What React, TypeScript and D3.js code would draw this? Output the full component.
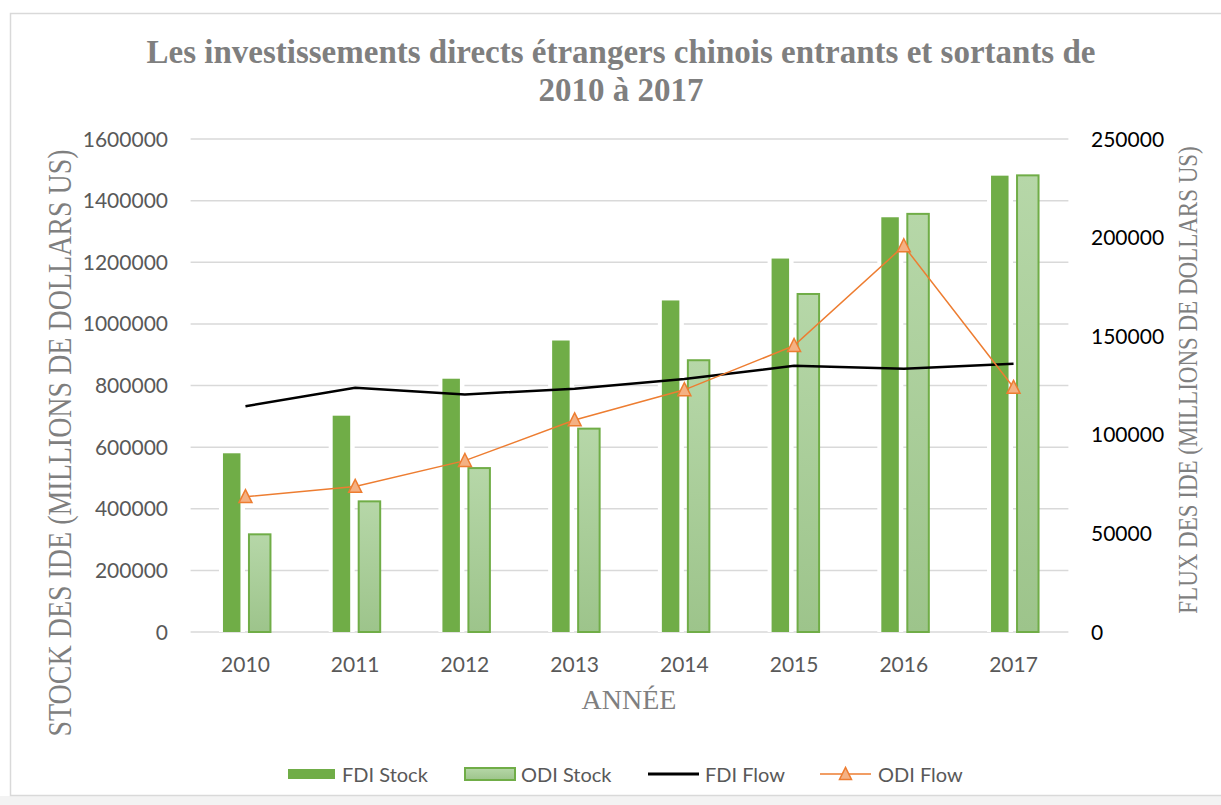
import React from "react";
import * as d3 from "d3";

const years = ["2010", "2011", "2012", "2013", "2014", "2015", "2016", "2017"];
const fdiStock = [580000, 702000, 822000, 946000, 1076000, 1212000, 1346000, 1481000];
const odiStock = [317000, 424000, 532000, 660000, 882000, 1097000, 1357000, 1482000];
const fdiFlow = [114500, 123800, 120500, 123300, 128300, 135000, 133500, 136000];
const odiFlow = [68600, 73800, 86900, 107500, 122800, 145200, 195800, 124000];
const leftTicks = [0, 200000, 400000, 600000, 800000, 1000000, 1200000, 1400000, 1600000];
const rightTicks = [0, 50000, 100000, 150000, 200000, 250000];

const W = 1221;
const H = 805;
const plotLeft = 190.6;
const plotRight = 1068.4;
const plotTop = 139;
const plotBottom = 632;

const SERIF = "'Liberation Serif', 'Times New Roman', serif";
const SANS = "Lato, 'Open Sans', sans-serif";

export default function App() {
  const x = d3.scaleBand<string>().domain(years).range([plotLeft, plotRight]).padding(0);
  const yL = d3.scaleLinear().domain([0, 1600000]).range([plotBottom, plotTop]);
  const yR = d3.scaleLinear().domain([0, 250000]).range([plotBottom, plotTop]);
  const cx = (y: string) => (x(y) as number) + x.bandwidth() / 2;

  const lineR = d3
    .line<number>()
    .x((_, i) => cx(years[i]))
    .y((d) => yR(d));

  const tri = (px: number, py: number, s: number) =>
    `M${px},${py - s * 0.55} L${px + s / 2},${py + s * 0.45} L${px - s / 2},${py + s * 0.45} Z`;

  return (
    <svg
      width={W}
      height={H}
      style={{ position: "absolute", left: 0, top: 0, display: "block", background: "#fff" }}
    >
      <defs>
        <linearGradient id="odiGrad" x1="0" y1="0" x2="0" y2="1">
          <stop offset="0%" stopColor="#b6d7a8" />
          <stop offset="100%" stopColor="#9dc48b" />
        </linearGradient>
      </defs>
      {/* chart frame */}
      <rect x={0} y={796} width={W} height={9} fill="#f3f3f3" />
      <rect x={10.5} y={13.5} width={W + 10} height={782} fill="#fff" stroke="#d9d9d9" strokeWidth={1.5} />

      {/* title */}
      <text x={621} y={63} textAnchor="middle" fontFamily={SERIF} fontWeight="bold" fontSize={33} fill="#7f7f7f">
        Les investissements directs étrangers chinois entrants et sortants de
      </text>
      <text x={621} y={101} textAnchor="middle" fontFamily={SERIF} fontWeight="bold" fontSize={33} fill="#7f7f7f">
        2010 à 2017
      </text>

      {/* gridlines */}
      {leftTicks.map((t) => (
        <line key={"g" + t} x1={plotLeft} x2={plotRight} y1={yL(t)} y2={yL(t)} stroke="#d9d9d9" strokeWidth={1.5} />
      ))}

      {/* bars */}
      {years.map((yr, i) => {
        const c = cx(yr);
        const top = yL(fdiStock[i]);
        return (
          <g key={"b" + yr}>
            <rect x={c - 26.5} y={top - 1} width={26} height={plotBottom - top + 1} fill="#fff" />
            <rect x={c - 22.5} y={top} width={17.5} height={plotBottom - top} fill="#70ad47" />
          </g>
        );
      })}
      {years.map((yr, i) => {
        const c = cx(yr);
        const top = yL(odiStock[i]);
        return (
          <rect
            key={"o" + yr}
            x={c + 3.5}
            y={top}
            width={21.5}
            height={plotBottom - top}
            fill="url(#odiGrad)"
            stroke="#70ad47"
            strokeWidth={2}
          />
        );
      })}

      {/* lines */}
      <path d={lineR(fdiFlow) || ""} fill="none" stroke="#000" strokeWidth={2.5} />
      <path d={lineR(odiFlow) || ""} fill="none" stroke="#ed7d31" strokeWidth={1.5} />
      {odiFlow.map((v, i) => (
        <path key={"m" + i} d={tri(cx(years[i]), yR(v), 13)} fill="#f4b183" stroke="#ed7d31" strokeWidth={1.5} />
      ))}

      {/* left axis labels */}
      {leftTicks.map((t) => (
        <text key={"l" + t} x={168} y={yL(t)} dy="0.36em" textAnchor="end" fontFamily={SANS} fontSize={21} fill="#595959">
          {t}
        </text>
      ))}
      {/* right axis labels */}
      {rightTicks.map((t) => (
        <text key={"r" + t} x={1091} y={yR(t)} dy="0.36em" textAnchor="start" fontFamily={SANS} fontSize={21} fill="#000">
          {t}
        </text>
      ))}
      {/* x labels */}
      {years.map((yr) => (
        <text key={"x" + yr} x={cx(yr)} y={664} dy="0.36em" textAnchor="middle" fontFamily={SANS} fontSize={21} fill="#595959">
          {yr}
        </text>
      ))}

      {/* axis titles */}
      <text
        transform={`translate(71,${443}) rotate(-90) scale(1,1.2)`}
        textAnchor="middle"
        fontFamily={SERIF}
        fontSize={28}
        fill="#7f7f7f"
      >
        STOCK DES IDE (MILLIONS DE DOLLARS US)
      </text>
      <text
        transform={`translate(1197,${380}) rotate(-90) scale(1,1.2)`}
        textAnchor="middle"
        fontFamily={SERIF}
        fontSize={23}
        fill="#7f7f7f"
      >
        FLUX DES IDE (MILLIONS DE DOLLARS US)
      </text>
      <text x={629} y={709} textAnchor="middle" fontFamily={SERIF} fontSize={28} fill="#7f7f7f">
        ANNÉE
      </text>

      {/* legend */}
      <g fontFamily={SANS} fontSize={20} fill="#595959">
        <rect x={288} y={769} width={47} height={10} fill="#70ad47" />
        <text x={342} y={775} dy="0.36em">FDI Stock</text>
        <rect x={465} y={768} width={50} height={12} fill="url(#odiGrad)" stroke="#70ad47" strokeWidth={2} />
        <text x={521} y={775} dy="0.36em">ODI Stock</text>
        <line x1={648} x2={699} y1={774} y2={774} stroke="#000" strokeWidth={3} />
        <text x={705} y={775} dy="0.36em">FDI Flow</text>
        <line x1={820} x2={871} y1={774} y2={774} stroke="#ed7d31" strokeWidth={1.5} />
        <path d={tri(845.5, 774, 12)} fill="#f4b183" stroke="#ed7d31" strokeWidth={1.5} />
        <text x={878} y={775} dy="0.36em">ODI Flow</text>
      </g>
    </svg>
  );
}
